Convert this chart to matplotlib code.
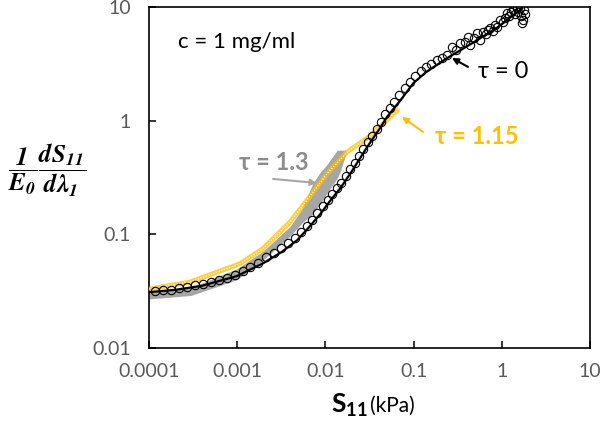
import matplotlib
matplotlib.use("Agg")
import matplotlib.pyplot as plt

plt.rcParams["font.family"] = ["Lato", "DejaVu Sans"]
plt.rcParams["mathtext.fontset"] = "custom"
plt.rcParams["mathtext.rm"] = "Lato"
plt.rcParams["mathtext.bf"] = "Lato:bold"

# fitted curve, tau = 0
fit_x = [1e-4, 2e-4, 4e-4, 1e-3, 2e-3, 3.2e-3, 4.8e-3, 6.3e-3, 8.7e-3, 0.0112,
         0.0148, 0.020, 0.0295, 0.0417, 0.050, 0.071, 0.10, 0.14, 0.24, 0.47,
         0.89, 1.15, 1.70]
fit_y = [0.031, 0.0325, 0.0353, 0.043, 0.056, 0.070, 0.089, 0.112, 0.150, 0.195,
         0.255, 0.36, 0.58, 0.86, 1.08, 1.51, 2.15, 2.69, 3.55, 4.84,
         6.6, 7.7, 9.7]

# measured points (open circles)
data_x = [1.17e-4, 1.45e-4, 1.78e-4, 2.19e-4, 2.69e-4, 3.31e-4, 4.07e-4, 5.01e-4,
          6.17e-4, 7.59e-4, 9.33e-4, 1.15e-3, 1.41e-3, 1.74e-3, 2.14e-3, 2.63e-3,
          3.16e-3, 3.80e-3, 4.47e-3, 5.25e-3, 6.17e-3, 7.08e-3, 8.13e-3, 9.33e-3,
          0.0107, 0.0120, 0.0135, 0.0151, 0.0170, 0.0191, 0.0214, 0.0240,
          0.0269, 0.0302, 0.0339, 0.0380, 0.0427, 0.0479, 0.0537, 0.0603,
          0.0692, 0.0794, 0.0912, 0.105, 0.120, 0.138, 0.158, 0.182, 0.209, 0.240,
          0.272, 0.302, 0.336, 0.383, 0.414, 0.437, 0.484, 0.524, 0.566, 0.612,
          0.662, 0.697, 0.735, 0.794, 0.838, 0.883, 0.955, 1.03, 1.09, 1.15,
          1.21, 1.27, 1.34, 1.41, 1.49, 1.53, 1.61, 1.65, 1.69, 1.74, 1.78, 1.83]
data_y = [0.0316, 0.0324, 0.0327, 0.0335, 0.0343, 0.0355, 0.0363, 0.0380,
          0.0398, 0.0417, 0.0437, 0.0479, 0.0513, 0.0562, 0.063, 0.069,
          0.076, 0.084, 0.093, 0.105, 0.119, 0.135, 0.153, 0.176,
          0.202, 0.226, 0.254, 0.285, 0.324, 0.372, 0.427, 0.49,
          0.562, 0.646, 0.733, 0.841, 0.966, 1.135, 1.29, 1.45,
          1.68, 1.93, 2.21, 2.48, 2.72, 2.95, 3.16, 3.39, 3.59, 3.80,
          4.45, 4.17, 4.82, 4.90, 5.45, 4.62, 5.33, 5.90, 5.13, 6.03,
          5.78, 6.28, 6.53, 6.15, 6.95, 6.67, 7.69, 7.38, 8.00, 8.85,
          8.34, 9.04, 9.42, 8.67, 9.79, 9.04, 9.85, 8.34, 7.23, 7.69, 9.42, 8.67]

# tau = 1.15 (yellow)
t115_x = [1e-4, 2.9e-4, 1.07e-3, 1.96e-3, 3.97e-3, 6.2e-3, 0.0104, 0.0176, 0.032, 0.058, 0.068]
t115_y = [0.033, 0.038, 0.055, 0.075, 0.128, 0.20, 0.34, 0.53, 0.73, 1.13, 1.27]

# tau = 1.3 (grey band)
t13_x = [1e-4, 3e-4, 1e-3, 2e-3, 4e-3, 5.5e-3, 7.2e-3, 8.7e-3, 0.0104, 0.0136, 0.0146, 0.0176]
t13_hi = [0.031, 0.034, 0.05, 0.072, 0.118, 0.17, 0.28, 0.35, 0.41, 0.55, 0.55, 0.55]
t13_lo = [0.027, 0.029, 0.040, 0.060, 0.097, 0.127, 0.152, 0.185, 0.23, 0.31, 0.35, 0.55]

x_ticks = [1e-4, 1e-3, 1e-2, 1e-1, 1, 10]
x_ticklabels = ["0.0001", "0.001", "0.01", "0.1", "1", "10"]
y_ticks = [0.01, 0.1, 1, 10]
y_ticklabels = ["0.01", "0.1", "1", "10"]

gold = "#FFC000"
grey = "#A6A6A6"

fig = plt.figure(figsize=(6, 4.26), dpi=100)
ax = fig.add_axes([0.2483, 0.1831, 0.735, 0.8005])

ax.fill_between(t13_x, t13_lo, t13_hi, color=grey, lw=0, zorder=2)
ax.plot(t115_x, t115_y, color=gold, lw=3.5, alpha=0.75, zorder=3, solid_capstyle="butt")
ax.plot(t115_x, t115_y, color="white", lw=0.8, ls=(0, (1, 1.5)), zorder=3)
ax.plot(data_x, data_y, ls="none", marker="o", ms=6, mfc="none", mec="black",
        mew=0.8, zorder=4)
ax.plot(fit_x, fit_y, color="black", lw=1.6, zorder=5)

ax.set_xscale("log")
ax.set_yscale("log")
ax.set_xlim(1e-4, 10)
ax.set_ylim(0.01, 10)
ax.set_xticks(x_ticks)
ax.set_xticklabels(x_ticklabels)
ax.set_yticks(y_ticks)
ax.set_yticklabels(y_ticklabels)
ax.minorticks_off()
ax.tick_params(direction="in", length=5, width=1.1, labelsize=14,
               labelcolor="#595959", color="black")
ax.tick_params(axis="x", pad=11)
ax.tick_params(axis="y", pad=13)
for s in ax.spines.values():
    s.set_linewidth(1.2)

ax.text(0.066, 0.897, "c = 1 mg/ml", transform=ax.transAxes, fontsize=16,
        va="center", ha="left")

ax.annotate("", xy=(0.272, 3.56), xytext=(0.414, 2.97),
            arrowprops=dict(arrowstyle="-|>", color="black", lw=1.5,
                            mutation_scale=9, shrinkA=0, shrinkB=0))
ax.text(0.537, 2.68, "τ = 0", fontsize=17, va="center", ha="left")

ax.annotate("", xy=(0.0738, 1.08), xytext=(0.128, 0.796),
            arrowprops=dict(arrowstyle="-|>", color=gold, lw=1.5,
                            mutation_scale=9, shrinkA=0, shrinkB=0))
ax.text(0.175, 0.72, "τ = 1.15", fontsize=17, fontweight="bold", color=gold,
        va="center", ha="left")

ax.annotate("", xy=(8.0e-3, 0.283), xytext=(2.55e-3, 0.307),
            arrowprops=dict(arrowstyle="-|>", color=grey, lw=1.5,
                            mutation_scale=9, shrinkA=0, shrinkB=0))
ax.text(2.6e-3, 0.43, "τ = 1.3", fontsize=17, fontweight="bold", color="#8C8C8C",
        va="center", ha="center")

fig.text(0.078, 0.60, r"$\mathbfit{\dfrac{1}{E_0}\dfrac{dS_{11}}{d\lambda_1}}$",
         fontsize=18, ha="center", va="center", math_fontfamily="stix")
fig.text(0.613, 0.049, r"$\mathbf{S_{11}}$", fontsize=19, ha="right", va="center")
fig.text(0.617, 0.047, "(kPa)", fontsize=15, ha="left", va="center")

fig.savefig("out.png", dpi=100)
